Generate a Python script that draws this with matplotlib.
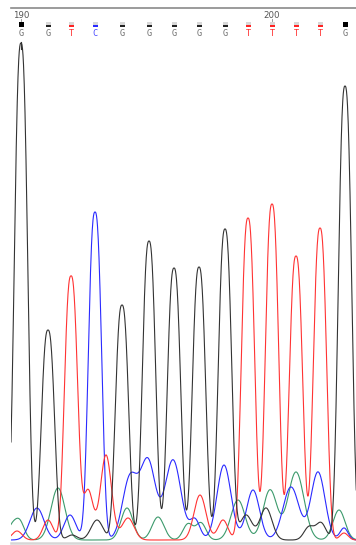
import numpy as np
import matplotlib
matplotlib.use('Agg')
from matplotlib import pyplot as plt

# base calls and where they sit on the trace (scan units)
base_calls = ['G', 'G', 'T', 'C', 'G', 'G', 'G', 'G', 'G', 'T', 'T', 'T', 'T', 'G']
call_pos = [21, 48, 71, 95, 122, 149, 174, 199, 225, 248, 272, 296, 320, 345]
full_quality = [True] + [False] * 12 + [True]
base_numbers = [190, 200]
number_pos = [21, 272]

# called peaks: position, height
g_main_pos = [21, 48, 122, 149, 174, 199, 225, 345]
g_main_height = [497, 210, 235, 299, 272, 273, 311, 454]
t_main_pos = [71, 248, 272, 296, 320]
t_main_height = [264, 322, 336, 284, 312]
c_main_pos = [95]
c_main_height = [328]

# small background peaks: position, height, width
g_pos = [72, 97, 246, 266, 309, 321]
g_height = [5, 20, 25, 32, 13, 17]
g_width = [5, 6, 6, 6, 5, 5]

a_pos = [11, 19, 58, 127, 158, 188, 201, 238, 270, 296, 339]
a_height = [10, 20, 52, 32, 23, 16, 17, 40, 50, 68, 30]
a_width = [4, 5, 7, 6, 6, 5, 5, 7, 7, 8, 6]

t_pos = [17, 48, 88, 106, 128, 200, 223, 344]
t_height = [9, 20, 50, 85, 22, 45, 20, 7]
t_width = [5, 5, 5, 5.5, 6, 6, 5, 4]

c_pos = [37, 70, 130, 148, 173, 195, 224, 253, 291, 318, 344]
c_height = [32, 25, 62, 78, 80, 20, 75, 50, 53, 68, 12]
c_width = [7, 6, 7.5, 7.5, 8, 5, 7, 6.5, 8, 7, 4]


def trace(x, main_pos, main_height, pos, height, width):
    y = np.zeros_like(x)
    for p, h in zip(main_pos, main_height):
        y += h * np.exp(-(np.abs(x - p) / 8.3) ** 2.6)
    for p, h, w in zip(pos, height, width):
        y += h * np.exp(-(x - p) ** 2 / (2 * w ** 2))
    return y


x = np.arange(11, 357, 0.25)

fig = plt.figure(figsize=(3.56, 5.45), dpi=100)
ax = fig.add_axes([11 / 356, 2 / 545, 345 / 356, 535 / 545])
ax.set_xlim(11, 356)
ax.set_ylim(-3, 532)
ax.axis('off')

ax.plot(x, trace(x, [], [], a_pos, a_height, a_width), color='#3c9a6c', lw=0.8)
ax.plot(x, trace(x, c_main_pos, c_main_height, c_pos, c_height, c_width), color='#2a2aff', lw=0.8)
ax.plot(x, trace(x, t_main_pos, t_main_height, t_pos, t_height, t_width), color='#ff3333', lw=0.8)
ax.plot(x, trace(x, g_main_pos, g_main_height, g_pos, g_height, g_width), color='#333333', lw=0.8)

# frame lines
ax.axhline(532, color='#8a8a8a', lw=1.2, clip_on=False)
ax.axhline(-3, color='#d6d6d6', lw=1.8, clip_on=False)

# header: numbers, quality bars, letters
colors = {'G': '#222222', 'T': '#ff2222', 'C': '#2a2aff', 'A': '#3c9a6c'}
text_colors = {'G': '#707070', 'T': '#ff3030', 'C': '#4a4aff', 'A': '#3c9a6c'}
for n, p in zip(base_numbers, number_pos):
    ax.text(p, 525, str(n), ha='center', va='center', fontsize=6.2,
            color='#555555', family='DejaVu Sans')
    ax.plot([p, p], [519.5, 521], color='#888888', lw=0.6)

for b, p, full in zip(base_calls, call_pos, full_quality):
    if full:
        ax.add_patch(plt.Rectangle((p - 2.5, 513.5), 5, 5, color='black', lw=0))
    else:
        ax.add_patch(plt.Rectangle((p - 2.5, 515.5), 5, 3, color='#d8d8d8', lw=0))
        ax.add_patch(plt.Rectangle((p - 2.5, 513.5), 5, 2, color=colors[b], lw=0))
    ax.text(p, 506, b, ha='center', va='center', fontsize=6.2,
            color=text_colors[b], family='DejaVu Sans Mono')

ax.plot([call_pos[0], call_pos[0]], [491, 498], color='#333333', lw=0.8)

fig.savefig('out.png', dpi=100)
